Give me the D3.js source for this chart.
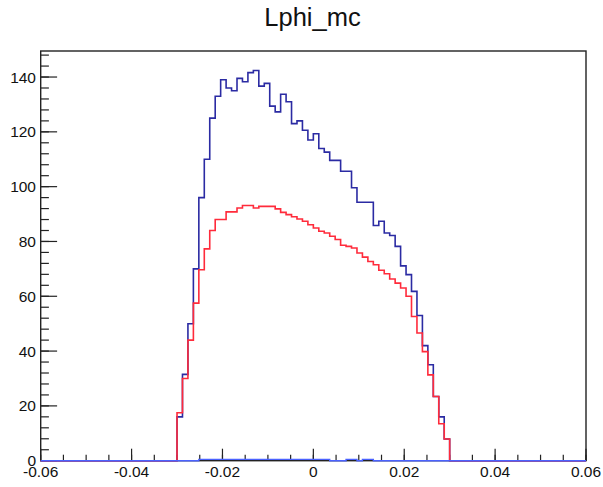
<!DOCTYPE html>
<html>
<head>
<meta charset="utf-8">
<script src="https://cdn.jsdelivr.net/npm/d3@7/dist/d3.min.js"></script>
<style>
  body { margin: 0; background: #fff; }
  svg { display: block; font-family: "Liberation Sans", Arial, sans-serif; }
</style>
</head>
<body>
<svg width="603" height="487"></svg>
<script>
// histogram binning: 50 filled bins from -0.03, width 0.0012
const xDomain = [-0.06, 0.06];
const yMax = 149.5;
const binStart = -0.03, binWidth = 0.0012;
const xTickValues = [-0.06, -0.04, -0.02, 0, 0.02, 0.04, 0.06];
const yTickValues = [0, 20, 40, 60, 80, 100, 120, 140];

// blue histogram
const blueCounts = [16, 31.5, 50, 70, 96, 110, 125, 133, 139, 136,
                    135, 139.5, 138.3, 141.6, 142.4, 136.7, 137.7, 129.4, 127.3, 133.7,
                    131, 123, 124, 120.6, 117, 119.3, 113.9, 112.6, 109.6, 109.6,
                    105.6, 105.6, 99.6, 94.3, 94.3, 94.3, 85.8, 87.4, 83.1, 82.2,
                    78.2, 71.1, 67.9, 61.8, 53, 42, 35, 23.4, 16, 7.9];
// red histogram
const redCounts = [17.5, 30, 44, 57.5, 69.7, 77.3, 84, 88, 88, 90.8,
                   90.8, 92.2, 93.1, 93.1, 92.2, 92.8, 92.8, 92.8, 91.9, 90.6,
                   89.8, 89, 88.2, 87.4, 86.1, 84.9, 83.7, 83.1, 81.9, 80.7,
                   78.6, 78.2, 77.6, 75.8, 74.3, 72.7, 71.5, 69.5, 68.2, 66.3,
                   64.8, 63, 60, 52.6, 46.6, 39.8, 31.3, 23.4, 13.5, 7.9];
// third histogram, almost empty
const thirdCounts = [0, 0, 0, 0, 0.5, 0.5, 0.5, 0.5, 0.5, 0.5,
                     0.5, 0.5, 0.5, 0.5, 0.5, 0.5, 0.5, 0.5, 0.5, 0.5,
                     0.5, 0.5, 0.5, 0.5, 0.5, 0.5, 0.5, 0.5, 0, 0,
                     0, 0.5, 0.5, 0, 0.5, 0.5, 0, 0, 0, 0,
                     0, 0, 0, 0, 0, 0, 0, 0, 0, 0];

const frame = {left: 40.7, right: 586, top: 51, bottom: 460.7};
const svg = d3.select("svg");

const x = d3.scaleLinear().domain(xDomain).range([frame.left, frame.right]);
const y = d3.scaleLinear().domain([0, yMax]).range([frame.bottom, frame.top]);

// title
svg.append("text")
  .attr("x", 312.5).attr("y", 26)
  .attr("text-anchor", "middle")
  .attr("font-size", "25.5px").attr("fill", "#111")
  .text("Lphi_mc");

// frame
svg.append("rect")
  .attr("x", frame.left).attr("y", frame.top)
  .attr("width", frame.right - frame.left).attr("height", frame.bottom - frame.top)
  .attr("fill", "none").attr("stroke", "#222").attr("stroke-width", 1.4);

const fmt = d => d3.format("")(d).replace("−", "-");

// x axis
const xAxis = svg.append("g");
xAxis.selectAll("line.minor")
  .data(d3.range(-0.06, 0.0601, 0.005))
  .enter().append("line")
  .attr("x1", d => x(d)).attr("x2", d => x(d))
  .attr("y1", frame.bottom).attr("y2", frame.bottom - 6)
  .attr("stroke", "#222").attr("stroke-width", 1.2);
xAxis.selectAll("line.major")
  .data(xTickValues).enter().append("line")
  .attr("x1", d => x(d)).attr("x2", d => x(d))
  .attr("y1", frame.bottom).attr("y2", frame.bottom - 12)
  .attr("stroke", "#222").attr("stroke-width", 1.2);
xAxis.selectAll("text")
  .data(xTickValues).enter().append("text")
  .attr("x", d => x(d)).attr("y", 476.5)
  .attr("text-anchor", "middle")
  .attr("font-size", "15.5px").attr("fill", "#111")
  .text(d => d === 0 ? "0" : fmt(d));

// y axis
const yAxis = svg.append("g");
yAxis.selectAll("line.minor")
  .data(d3.range(0, yMax, 4))
  .enter().append("line")
  .attr("x1", frame.left).attr("x2", frame.left + 8.2)
  .attr("y1", d => y(d)).attr("y2", d => y(d))
  .attr("stroke", "#222").attr("stroke-width", 1.2);
yAxis.selectAll("line.major")
  .data(yTickValues).enter().append("line")
  .attr("x1", frame.left).attr("x2", frame.left + 16.4)
  .attr("y1", d => y(d)).attr("y2", d => y(d))
  .attr("stroke", "#222").attr("stroke-width", 1.2);
yAxis.selectAll("text")
  .data(yTickValues).enter().append("text")
  .attr("x", 36).attr("y", d => y(d))
  .attr("dy", "0.36em")
  .attr("text-anchor", "end")
  .attr("font-size", "15.5px").attr("fill", "#111")
  .text(d => d);

// step path of a histogram, zero outside the filled bins
function histPoints(counts) {
  const pts = [[xDomain[0], 0]];
  counts.forEach((c, i) => pts.push([binStart + i * binWidth, c]));
  pts.push([binStart + counts.length * binWidth, 0]);
  pts.push([xDomain[1], 0]);
  return pts;
}
const step = d3.line()
  .x(d => x(d[0])).y(d => y(d[1]))
  .curve(d3.curveStepAfter);

svg.append("path")
  .attr("d", step(histPoints(blueCounts)))
  .attr("fill", "none").attr("stroke", "#2b2ba3").attr("stroke-width", 1.6);
svg.append("path")
  .attr("d", step(histPoints(redCounts)))
  .attr("fill", "none").attr("stroke", "#ff2b3b").attr("stroke-width", 1.6);
svg.append("path")
  .attr("d", step(histPoints(thirdCounts)))
  .attr("fill", "none").attr("stroke", "#4a62ff").attr("stroke-width", 1.4);
</script>
</body>
</html>
